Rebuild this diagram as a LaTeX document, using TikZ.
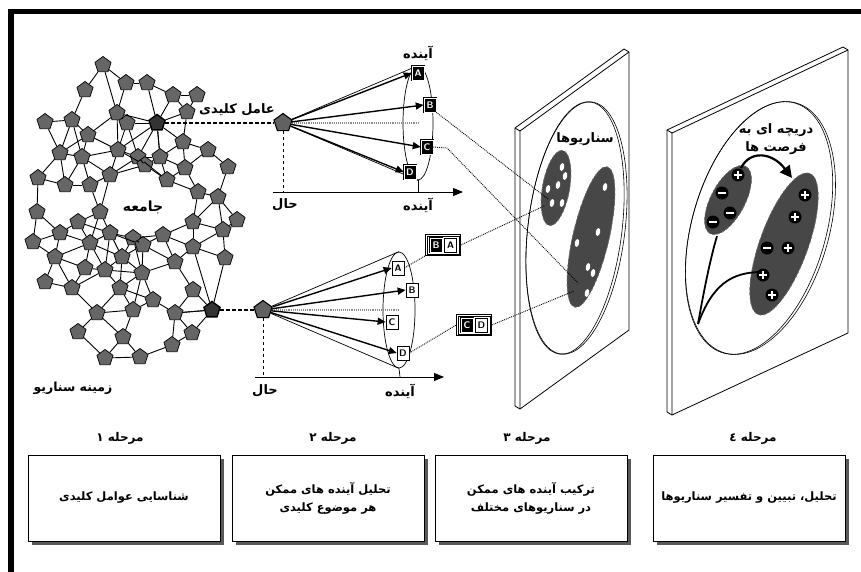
\documentclass[tikz,border=0pt]{standalone}
\usepackage{fontspec}
\usetikzlibrary{shapes.geometric,arrows.meta,shadows}
\newfontfamily\farsi[Script=Arabic]{DejaVu Sans}
\TeXXeTstate=1
\newcommand\fatxt[1]{\beginR #1\endR}
\begin{document}
\begin{tikzpicture}[x=1pt,y=-1pt,
  pent/.style={regular polygon,regular polygon sides=5,draw=black,line width=0.7pt,fill=black!60,minimum size=17pt,inner sep=0pt},
  keypent/.style={pent,fill=black!80,line width=1.4pt},
  fanpent/.style={pent,fill=black!62,line width=1.1pt,minimum size=19pt},
  netedge/.style={line width=0.9pt},
  fatext/.style={font=\farsi\bfseries\fontsize{13}{15}\selectfont,inner sep=1pt},
  steptext/.style={font=\farsi\bfseries\fontsize{12}{14}\selectfont,inner sep=1pt},
  letterbox/.style={minimum width=12pt,minimum height=14pt,inner sep=0pt,font=\sffamily\bfseries\fontsize{9.5}{9.5}\selectfont},
  darkbox/.style={letterbox,fill=black,draw=black,double=white,double distance=0.5pt,line width=0.5pt,text=white},
  lightbox/.style={letterbox,fill=white,draw=black,line width=0.7pt},
  fanarrow/.style={line width=1.4pt,-{Triangle[length=8pt,width=7pt]}},
  cone/.style={line width=0.7pt},
  axisline/.style={line width=1pt,-{Triangle[length=10pt,width=8pt]}},
  vdash/.style={dashed,line width=0.7pt},
  keydash/.style={dash pattern=on 4pt off 2pt,line width=1.2pt},
  midline/.style={black!45,densely dotted,line width=1.1pt},
  dotcon/.style={densely dotted,line width=0.9pt},
  blob/.style={fill=black!72,draw=black!55,densely dashed,line width=0.6pt},
  panelline/.style={line width=0.8pt},
  pairframe/.style={draw=black,line width=0.7pt,fill=white,minimum width=35pt,minimum height=21pt,inner sep=0pt},
  stagebox/.style={draw=black,fill=white,line width=0.7pt,minimum width=192pt,minimum height=86pt,align=center,font=\farsi\bfseries\fontsize{11.5}{18}\selectfont,drop shadow={shadow xshift=3.5pt,shadow yshift=-3.5pt,fill=black!65,opacity=1}},
]
\useasboundingbox (0,0) rectangle (861,572);
\fill[white] (0,0) rectangle (861,572);
% frame bars
\fill[black] (8,9) rectangle (861,14);
\fill[black] (8,9) rectangle (14,572);

% ---------- network ----------
\def\netpts{1/103/65/pent,2/85/90/pent,3/126/83/pent,4/147/83/pent,5/173/95/pent,6/197/95/pent,
7/45/122/pent,8/72/120/pent,9/88/135/pent,10/117/113/pent,11/127/123/pent,12/157/123/keypent,
13/187/112/pent,14/60/153/pent,15/82/157/pent,16/118/150/pent,17/138/157/pent,18/145/165/pent,
19/160/157/pent,20/183/142/pent,21/208/150/pent,22/185/168/pent,23/167/180/pent,24/228/167/pent,
25/38/178/pent,26/65/185/pent,27/90/185/pent,28/110/175/pent,29/198/192/pent,30/218/197/pent,
31/37/212/pent,32/78/222/pent,33/100/212/pent,34/193/222/pent,35/237/220/pent,36/223/230/pent,
37/33/242/pent,38/60/233/pent,39/90/243/pent,40/110/233/pent,41/133/238/pent,42/143/245/pent,
43/163/235/pent,44/193/247/pent,45/225/258/pent,46/55/257/pent,47/85/268/pent,48/105/270/pent,
49/122/257/pent,50/142/273/pent,51/175/262/pent,52/45/282/pent,53/72/288/pent,54/120/288/pent,
55/153/300/pent,56/193/290/pent,57/212/310/keypent,58/97/313/pent,59/133/310/pent,60/175/313/pent,
61/78/332/pent,62/123/337/pent,63/172/345/pent,64/192/333/pent,65/105/358/pent,66/140/357/pent}
\foreach \i/\xa/\ya/\sa in \netpts {\node[\sa] (n\i) at (\xa,\ya) {};}
\foreach \i/\xa/\ya/\sa in \netpts {
  \foreach \j/\xb/\yb/\sb in \netpts {
    \ifnum\j>\i
      \pgfmathsetmacro\dd{veclen(\xb-\xa,\yb-\ya)}
      \ifdim\dd pt<38.5pt \draw[netedge] (n\i) -- (n\j); \fi
    \fi
  }
}
\foreach \a/\b in {12/4,12/17,12/16,12/19,12/10,1/10,57/45,57/44,57/60}
  {\draw[netedge] (n\a) -- (n\b);}

\node[fatext,font=\farsi\bfseries\fontsize{14}{16}\selectfont] (jamee) at (143,207) {\fatxt{جامعه}};
\node[fatext,font=\farsi\bfseries\fontsize{12.5}{15}\selectfont] (zamine) at (73,388) {\fatxt{زمینه سناریو}};
\node[fatext] (amel) at (237,110) {\fatxt{عامل کلیدی}};

% ---------- upper fan ----------
\node[fanpent] (p1) at (283,123) {};
\draw[keydash] (n12) -- (p1);
\node[draw,ellipse,line width=0.7pt,minimum width=30pt,minimum height=114pt,inner sep=0pt] (e1) at (418,123) {};
\coordinate (ax1s) at (273,192);
\coordinate (ax1e) at (463,192);
\coordinate (ax1t) at (418,192);
\draw[axisline] (ax1s) -- (ax1e);
\draw[vdash] (p1) -- (p1 |- ax1s);
\draw[cone] (e1.south) -- (ax1t);
\draw[midline] (p1.east) -- (e1.center);
\draw[cone] (p1) -- (e1.north);
\draw[cone] (p1) -- (e1.south);
\node[darkbox] (ua) at (418,73) {A};
\node[darkbox] (ub) at (430,105) {B};
\node[darkbox] (uc) at (427,147) {C};
\node[darkbox] (ud) at (410,172) {D};
\foreach \t in {ua,ub,uc,ud} {\draw[fanarrow] (p1) -- (\t.west);}
\node[fatext] (fut1) at (418,53) {\fatxt{آینده}};
\node[fatext] (fut2) at (418,205) {\fatxt{آینده}};
\node[fatext] (hal1) at (285,205) {\fatxt{حال}};

% ---------- lower fan ----------
\node[fanpent] (p2) at (263,310) {};
\draw[keydash] (n57) -- (p2);
\node[draw,ellipse,line width=0.7pt,minimum width=32pt,minimum height=116pt,inner sep=0pt] (e2) at (399,310) {};
\coordinate (ax2s) at (255,377);
\coordinate (ax2e) at (444,377);
\coordinate (ax2t) at (400,377);
\draw[axisline] (ax2s) -- (ax2e);
\draw[vdash] (p2) -- (p2 |- ax2s);
\draw[cone] (e2.south) -- (ax2t);
\draw[midline] (p2.east) -- (e2.center);
\draw[cone] (p2) -- (e2.north);
\draw[cone] (p2) -- (e2.south);
\node[lightbox] (la) at (398,268) {A};
\node[lightbox] (lb) at (412,290) {B};
\node[lightbox] (lc) at (392,322) {C};
\node[lightbox] (ld) at (403,353) {D};
\foreach \t in {la,lb,lc,ld} {\draw[fanarrow] (p2) -- (\t.west);}
\node[fatext] (fut3) at (400,391) {\fatxt{آینده}};
\node[fatext] (hal2) at (265,391) {\fatxt{حال}};

% combined boxes
\node[pairframe] (ba) at (443,245) {};
\draw[line width=0.5pt] ([shift={(2,2)}]ba.north west) rectangle ([shift={(-2,-2)}]ba.south east);
\node[darkbox] (bab) at (436,245) {B};
\node[lightbox] (baa) at (450.5,245) {A};
\node[pairframe] (cd) at (474,325) {};
\draw[line width=0.5pt] ([shift={(2,2)}]cd.north west) rectangle ([shift={(-2,-2)}]cd.south east);
\node[darkbox] (cdc) at (467,325) {C};
\node[lightbox] (cdd) at (481.5,325) {D};

% ---------- panel 3 ----------
\filldraw[panelline,fill=white] (515,128) -- (624,49) -- (629,52) -- (629,330) -- (520,409) -- (515,406) -- cycle;
\draw[panelline] (515,128) -- (520,131) -- (629,52) (520,131) -- (520,409);
\draw[line width=0.6pt,rotate around={-7:(575,228)}] (575,228) ellipse [x radius=47,y radius=127];
\draw[line width=0.6pt,rotate around={-7:(576.5,228)}] (576.5,228) ellipse [x radius=48.5,y radius=127];
\fill[blob,rotate around={-10:(556,188)}] (556,188) ellipse [x radius=13.5,y radius=38];
\draw[blob,rotate around={-10:(556,188)}] (556,188) ellipse [x radius=13.5,y radius=38];
\fill[blob,rotate around={-13:(591,237)}] (591,237) ellipse [x radius=18,y radius=72];
\draw[blob,rotate around={-13:(591,237)}] (591,237) ellipse [x radius=18,y radius=72];
\foreach \x/\y in {562/167,565/176,558/185,548/189,552/203,562/203,605/187,598/232,577/243,588/267,593/273,587/293}
  {\fill[white,rotate around={-10:(\x,\y)}] (\x,\y) ellipse [x radius=2.2,y radius=4];}
\node[fatext,font=\farsi\bfseries\fontsize{13}{16}\selectfont] (sen) at (585,139) {\fatxt{سناریوها}};

% dotted links
\coordinate (t1) at (548,199);
\coordinate (t2) at (544,206);
\coordinate (t3) at (578,283);
\coordinate (t4) at (574,291);
\coordinate (ubend) at (447,148);
\draw[dotcon] (ub.south east) -- (t1);
\draw[dotcon] (uc.east) -- (ubend) -- (t3);
\draw[dotcon] (la.east) -- (ba.south west);
\draw[dotcon] (ba.east) -- (t2);
\draw[dotcon] (ld.east) -- (cd.west);
\draw[dotcon] (cd.east) -- (t4);

% ---------- panel 4 ----------
\filldraw[panelline,fill=white] (667,130) -- (843,47) -- (848,50) -- (848,333) -- (672,415) -- (667,412) -- cycle;
\draw[panelline] (667,130) -- (672,133) -- (848,50) (672,133) -- (672,415);
\draw[line width=0.6pt,rotate around={-16:(759,228)}] (759,228) ellipse [x radius=67,y radius=130];
\draw[line width=0.6pt,rotate around={-16:(760.5,228)}] (760.5,228) ellipse [x radius=68.5,y radius=130];
\fill[blob,rotate around={-28:(728,200)}] (728,200) ellipse [x radius=17,y radius=38];
\draw[blob,rotate around={-28:(728,200)}] (728,200) ellipse [x radius=17,y radius=38];
\fill[blob,rotate around={-20:(784,244)}] (784,244) ellipse [x radius=24,y radius=75];
\draw[blob,rotate around={-20:(784,244)}] (784,244) ellipse [x radius=24,y radius=75];
\foreach \x/\y in {738/175,805/195,795/217,788/248,763/275,772/295}
  {\fill[black] (\x,\y) circle (6.5);
   \draw[white,line width=2.3pt] (\x-4,\y) -- (\x+4,\y) (\x,\y-4) -- (\x,\y+4);}
\foreach \x/\y in {722/193,730/213,713/222,767/248}
  {\fill[black] (\x,\y) circle (6.5);
   \draw[white,line width=2.3pt] (\x-4,\y) -- (\x+4,\y);}
\coordinate (arrS) at (741,168);
\coordinate (arrE) at (792,178);
\draw[line width=2.2pt,-{Triangle[length=12pt,width=12pt]}] (arrS) .. controls (750,150) and (772,152) .. (arrE);
\coordinate (root) at (698,324);
\coordinate (lb1) at (717,236);
\coordinate (lb2) at (762,272);
\draw[line width=1.8pt] (root) .. controls (704,290) and (710,260) .. (lb1);
\draw[line width=1.8pt] (root) .. controls (712,286) and (730,272) .. (lb2);
\node[fatext,align=center,font=\farsi\bfseries\fontsize{13}{18}\selectfont] (darich) at (776,139) {\fatxt{دریچه ای به}\\\fatxt{فرصت ها}};

% ---------- stage boxes ----------
\node[steptext] (m1) at (120,438) {\fatxt{مرحله ۱}};
\node[steptext] (m2) at (333,438) {\fatxt{مرحله ۲}};
\node[steptext] (m3) at (527,438) {\fatxt{مرحله ۳}};
\node[steptext] (m4) at (753,438) {\fatxt{مرحله ٤}};
\node[stagebox] (s1) at (124,498) {\fatxt{شناسایی عوامل کلیدی}};
\node[stagebox] (s2) at (328,498) {\fatxt{تحلیل آینده های ممکن}\\\fatxt{هر موضوع کلیدی}};
\node[stagebox] (s3) at (531,498) {\fatxt{ترکیب آینده های ممکن}\\\fatxt{در سناریوهای مختلف}};
\node[stagebox] (s4) at (749,498) {\fatxt{تحلیل، تبیین و تفسیر سناریوها}};
\end{tikzpicture}
\end{document}
